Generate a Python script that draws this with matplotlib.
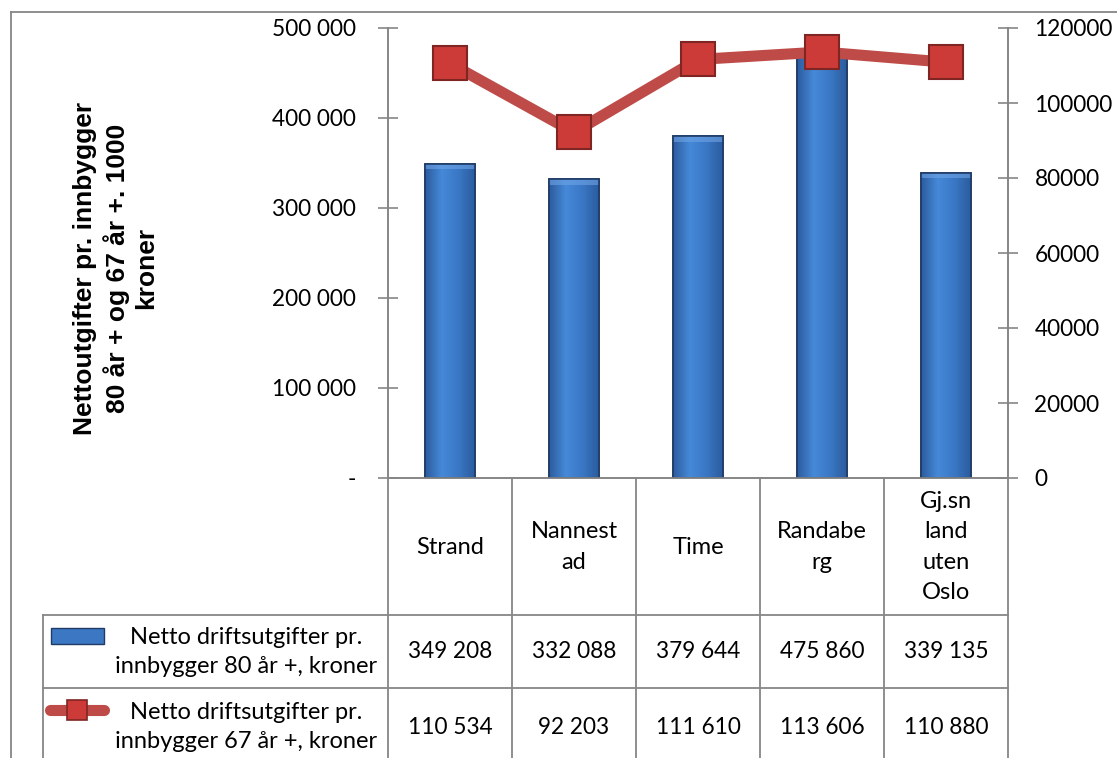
import matplotlib.pyplot as plt
import numpy as np
from matplotlib.patches import Rectangle
from matplotlib.lines import Line2D
from matplotlib.colors import LinearSegmentedColormap

categories = ["Strand", "Nannest\nad", "Time", "Randabe\nrg", "Gj.sn\nland\nuten\nOslo"]
netto_80 = [349208, 332088, 379644, 475860, 339135]
netto_67 = [110534, 92203, 111610, 113606, 110880]
series_names = ["Netto driftsutgifter pr.\ninnbygger 80 år +, kroner",
                "Netto driftsutgifter pr.\ninnbygger 67 år +, kroner"]
left_ticks = [0, 100000, 200000, 300000, 400000, 500000]
right_ticks = [0, 20000, 40000, 60000, 80000, 100000, 120000]

W, H = 1117, 758
FONT = "Lato"
FS = 17      # table text
FSN = 16.3   # numbers
GRID = "#868686"
BAR_EDGE = "#1F3B66"
LINE_C = "#BE4B48"
MARK_FACE = "#CC3B37"
MARK_EDGE = "#7F2624"


def fx(x):
    return x / W


def fy(y):
    return 1 - y / H


def spaced(v):
    return f"{v:,}".replace(",", " ")


fig = plt.figure(figsize=(W / 100, H / 100), dpi=100)

# plot area
x0, x1, ytop, ybot = 388, 1008, 28, 478
ax = fig.add_axes([fx(x0), fy(ybot), fx(x1 - x0), (ybot - ytop) / H])
ax2 = ax.twinx()

n = len(categories)
xs = np.arange(n)
bars = ax.bar(xs, netto_80, width=0.4, color="#3B77C3", edgecolor=BAR_EDGE, linewidth=1.2, zorder=2)

# horizontal gradient inside bars
cmap = LinearSegmentedColormap.from_list("b", ["#2C5C9E", "#4689D8", "#3A78C6", "#2C5C9E"])
grad = np.linspace(0, 1, 64).reshape(1, -1)
for b in bars:
    im = ax.imshow(grad, cmap=cmap, aspect="auto", zorder=2.5,
                   extent=[b.get_x(), b.get_x() + b.get_width(), 0, b.get_height()])
    im.set_clip_path(b)
    top = Rectangle((b.get_x(), b.get_height() - 6000), b.get_width(), 6000,
                    facecolor="#6FA4E6", edgecolor="none", zorder=2.6, alpha=0.6)
    ax.add_patch(top)
    top.set_clip_path(b)
    ax.add_patch(Rectangle((b.get_x(), 0), b.get_width(), b.get_height(), fill=False,
                           edgecolor=BAR_EDGE, linewidth=1.2, zorder=2.7))

ax.set_xlim(-0.5, n - 0.5)
ax.set_ylim(0, 500000)
ax.set_yticks(left_ticks)
ax.set_yticklabels(["-"] + [spaced(v) for v in left_ticks[1:]], fontsize=FSN, fontfamily=FONT)
ax.set_xticks([])
ax.tick_params(axis="y", length=14, direction="inout", color=GRID, width=1.2, pad=16)

ax2.plot(xs, netto_67, color=LINE_C, linewidth=8, solid_capstyle="butt", zorder=3)
ax2.plot(xs, netto_67, linestyle="none", marker="s", markersize=24,
         markerfacecolor=MARK_FACE, markeredgecolor=MARK_EDGE, markeredgewidth=1.5, zorder=4)
ax2.set_ylim(0, 120000)
ax2.set_yticks(right_ticks)
ax2.set_yticklabels([str(v) for v in right_ticks], fontsize=FSN, fontfamily=FONT)
ax2.tick_params(axis="y", length=14, direction="inout", color=GRID, width=1.2, pad=12)

for a in (ax, ax2):
    a.spines["top"].set_visible(False)
    for s in ["left", "right", "bottom"]:
        a.spines[s].set_color(GRID)
        a.spines[s].set_linewidth(1.2)
ax.set_zorder(1)
ax2.set_zorder(2)
ax.patch.set_visible(False)
ax2.patch.set_visible(False)

# y label
fig.text(fx(116), fy(268), "Nettoutgifter pr. innbygger\n80 år + og 67 år +. 1000\nkroner",
         rotation=90, ha="center", va="center", fontsize=19, fontweight="bold",
         fontfamily="Liberation Sans", linespacing=1.25)


# outer border
def fline(xa, ya, xb, yb, **kw):
    fig.add_artist(Line2D([fx(xa), fx(xb)], [fy(ya), fy(yb)], color=GRID, linewidth=1.3, **kw))


fline(11, 12, W, 12)
fline(11, 12, 11, H)

# data table
col_w = (x1 - x0) / n
row1, row2 = 615, 688
for i in range(n + 1):
    fline(x0 + i * col_w, ybot, x0 + i * col_w, H)
fline(43, row1, x1, row1)
fline(43, row2, x1, row2)
fline(43, row1, 43, H)

for i, c in enumerate(categories):
    fig.text(fx(x0 + (i + 0.5) * col_w), fy(547), c, ha="center", va="center",
             fontsize=FS, fontfamily=FONT, linespacing=1.55)
    fig.text(fx(x0 + (i + 0.5) * col_w), fy(652), spaced(netto_80[i]), ha="center", va="center",
             fontsize=FSN, fontfamily=FONT)
    fig.text(fx(x0 + (i + 0.5) * col_w), fy(727), spaced(netto_67[i]), ha="center", va="center",
             fontsize=FSN, fontfamily=FONT)

fig.text(fx(246), fy(652), series_names[0], ha="center", va="center", fontsize=FS,
         fontfamily=FONT, linespacing=1.42)
fig.text(fx(246), fy(727), series_names[1], ha="center", va="center", fontsize=FS,
         fontfamily=FONT, linespacing=1.42)

# legend keys
fig.add_artist(Rectangle((fx(51), fy(644)), fx(53), 16 / H, facecolor="#3B77C3",
                         edgecolor=BAR_EDGE, linewidth=1.0))
fig.add_artist(Line2D([fx(50), fx(104)], [fy(710), fy(710)], color=LINE_C, linewidth=8,
                      solid_capstyle="round"))
fig.add_artist(Line2D([fx(77)], [fy(710)], marker="s", markersize=15, markerfacecolor=MARK_FACE,
                      markeredgecolor=MARK_EDGE, markeredgewidth=1.2))

fig.savefig("out.png", dpi=100)
